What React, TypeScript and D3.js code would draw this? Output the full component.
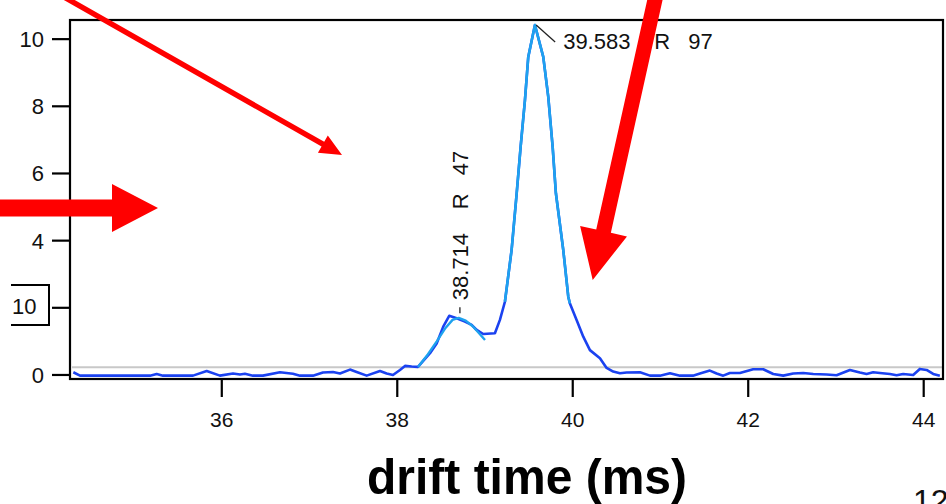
import React from "react";
import * as d3 from "d3";

// ---- data ----
const rawTime = [
  34.308, 34.384, 35.182, 35.258, 35.33, 35.672, 35.828, 35.979, 36.128, 36.207,
  36.264, 36.355, 36.469, 36.663, 36.811, 36.891, 37.039, 37.153, 37.267, 37.347,
  37.461, 37.537, 37.651, 37.803, 37.879, 37.951, 38.031, 38.088, 38.164, 38.236,
  38.373, 38.449, 38.524, 38.592, 38.677, 38.771, 38.848, 38.905, 38.98, 39.113,
  39.17, 39.227, 39.303, 39.361, 39.406, 39.455, 39.493, 39.569, 39.664, 39.721,
  39.771, 39.808, 39.892, 39.949, 39.968, 40.044, 40.12, 40.196, 40.31, 40.386,
  40.461, 40.538, 40.614, 40.766, 40.88, 40.994, 41.108, 41.222, 41.37, 41.45,
  41.563, 41.64, 41.715, 41.791, 41.905, 42.057, 42.171, 42.285, 42.399, 42.513,
  42.627, 42.741, 42.893, 43.007, 43.159, 43.273, 43.349, 43.424, 43.501, 43.615,
  43.691, 43.766, 43.88, 43.956, 44.033, 44.108, 44.184,
];
const rawIntensity = [
  0.08, -0.02, -0.02, 0.03, -0.02, -0.02, 0.12, -0.02, 0.045, 0.015,
  0.035, -0.02, -0.02, 0.08, 0.035, -0.02, -0.02, 0.075, 0.09, 0.045,
  0.16, 0.09, -0.02, 0.12, 0.045, 0.0, 0.15, 0.27, 0.25, 0.24,
  0.65, 0.94, 1.44, 1.76, 1.69, 1.59, 1.49, 1.34, 1.22, 1.24,
  1.64, 2.18, 3.72, 5.41, 6.79, 8.18, 9.47, 10.42, 9.47, 8.28,
  6.79, 5.41, 3.72, 2.33, 2.13, 1.64, 1.14, 0.74, 0.5, 0.21,
  0.1, 0.05, 0.075, 0.08, -0.02, -0.02, 0.05, -0.02, -0.02, 0.045,
  0.13, 0.045, -0.02, 0.06, 0.06, 0.17, 0.17, 0.03, -0.02, 0.045,
  0.06, 0.03, 0.015, -0.01, 0.15, 0.075, 0.03, 0.08, 0.06, 0.03,
  -0.01, 0.03, 0.0, 0.18, 0.15, 0.03, -0.02,
];

const fitMinorTime = [38.236, 38.35, 38.45, 38.55, 38.63, 38.7, 38.78, 38.86, 38.93, 39.0];
const fitMinorIntensity = [0.24, 0.62, 1.0, 1.4, 1.64, 1.7, 1.62, 1.45, 1.25, 1.04];

const fitMajorTime = [39.227, 39.303, 39.361, 39.406, 39.455, 39.493, 39.569, 39.664, 39.721, 39.771, 39.808, 39.892, 39.949, 39.968];
const fitMajorIntensity = [2.18, 3.72, 5.41, 6.79, 8.18, 9.47, 10.42, 9.47, 8.28, 6.79, 5.41, 3.72, 2.33, 2.13];

const baselineLevel = 0.23;

const xTicks = [36, 38, 40, 42, 44];
const yTicks = [0, 2, 4, 6, 8, 10];
// the label of tick 2 is hidden under the boxed "10" in the reference
const yTickLabels = ["0", "", "4", "6", "8", "10"];

const peakTimes = [39.583, 38.714];
const peakHeights = [10.42, 1.72];
const peakLabels = ["39.583", "38.714"];
const peakR = ["R", "R"];
const peakNumbers = ["97", "47"];

const xTitle = "drift time (ms)";
const boxedLabel = "10";
const pageNumber = "12";

// ---- layout ----
const W = 946;
const H = 504;
const plot = { left: 70, right: 943, top: 20, bottom: 379 };
const FONT = "'Liberation Sans', Arial, Helvetica, sans-serif";
const RAW_COLOR = "#1b42f0";
const FIT_COLOR = "#1ea2ee";
const RED = "#ff0000";

function arrowPoints(
  sx: number, sy: number, tx: number, ty: number,
  shaftHalf: number, headLen: number, headHalf: number
) {
  const dx = tx - sx;
  const dy = ty - sy;
  const len = Math.hypot(dx, dy);
  const ux = dx / len, uy = dy / len;
  const px = -uy, py = ux;
  const bx = tx - ux * headLen, by = ty - uy * headLen;
  const pts = [
    [sx + px * shaftHalf, sy + py * shaftHalf],
    [bx + px * shaftHalf, by + py * shaftHalf],
    [bx + px * headHalf, by + py * headHalf],
    [tx, ty],
    [bx - px * headHalf, by - py * headHalf],
    [bx - px * shaftHalf, by - py * shaftHalf],
    [sx - px * shaftHalf, sy - py * shaftHalf],
  ];
  return pts.map((p) => p.join(",")).join(" ");
}

export default function App() {
  const x = d3.scaleLinear().domain([34.27, 44.22]).range([plot.left, plot.right]);
  const y = d3.scaleLinear().domain([-0.12, 10.57]).range([plot.bottom, plot.top]);

  const line = d3
    .line<[number, number]>()
    .x((d) => x(d[0]))
    .y((d) => y(d[1]));

  const raw = rawTime.map((t, i) => [t, rawIntensity[i]] as [number, number]);
  const fitMinor = fitMinorTime.map((t, i) => [t, fitMinorIntensity[i]] as [number, number]);
  const fitMajor = fitMajorTime.map((t, i) => [t, fitMajorIntensity[i]] as [number, number]);

  const labelOffsets = [0, 91, 125];

  const px0 = x(peakTimes[0]);
  const py0 = y(peakHeights[0]);
  const px1 = x(peakTimes[1]);
  const py1 = y(peakHeights[1]);

  return (
    <svg
      width={W}
      height={H}
      viewBox={`0 0 ${W} ${H}`}
      style={{ position: "absolute", left: 0, top: 0, background: "#fff" }}
      fontFamily={FONT}
    >
      <rect x={0} y={0} width={W} height={H} fill="#fff" />

      {/* baseline */}
      <line
        x1={plot.left + 2}
        x2={plot.right}
        y1={y(baselineLevel)}
        y2={y(baselineLevel)}
        stroke="#c8c8c8"
        strokeWidth={2}
      />

      {/* raw data */}
      <path d={line(raw) ?? ""} fill="none" stroke={RAW_COLOR} strokeWidth={2.6} strokeLinejoin="round" />
      {/* fits */}
      <path d={line(fitMinor) ?? ""} fill="none" stroke={FIT_COLOR} strokeWidth={2.4} strokeLinejoin="round" />
      <path d={line(fitMajor) ?? ""} fill="none" stroke={FIT_COLOR} strokeWidth={2.6} strokeLinejoin="round" />

      {/* frame */}
      <rect
        x={plot.left}
        y={plot.top}
        width={plot.right - plot.left}
        height={plot.bottom - plot.top}
        fill="none"
        stroke="#000"
        strokeWidth={2.2}
      />

      {/* y axis ticks */}
      {yTicks.map((t, i) => (
        <g key={"y" + t}>
          <line x1={plot.left - 18} x2={plot.left} y1={y(t)} y2={y(t)} stroke="#000" strokeWidth={2.2} />
          {yTickLabels[i] !== "" && (
            <text x={plot.left - 26} y={y(t)} dy="0.36em" textAnchor="end" fontSize={22} fill="#111">
              {yTickLabels[i]}
            </text>
          )}
        </g>
      ))}

      {/* x axis ticks */}
      {xTicks.map((t) => (
        <g key={"x" + t}>
          <line x1={x(t)} x2={x(t)} y1={plot.bottom} y2={plot.bottom + 18} stroke="#000" strokeWidth={2.2} />
          <text x={x(t)} y={427} textAnchor="middle" fontSize={21} fill="#111">
            {t}
          </text>
        </g>
      ))}

      {/* boxed label overlay */}
      <path d="M11,285 H49 V325 H11" fill="#fff" stroke="#000" strokeWidth={2} />
      <text x={12} y={306} dy="0.36em" fontSize={22} fill="#111">
        {boxedLabel}
      </text>

      {/* peak annotation 1 */}
      <line x1={px0} y1={py0} x2={px0 + 19} y2={py0 + 17} stroke="#222" strokeWidth={1.3} />
      <text x={px0 + 27} y={py0 + 24} fontSize={22} fill="#111">
        <tspan x={px0 + 27 + labelOffsets[0]}>{peakLabels[0]}</tspan>
        <tspan x={px0 + 27 + labelOffsets[1]}>{peakR[0]}</tspan>
        <tspan x={px0 + 27 + labelOffsets[2]}>{peakNumbers[0]}</tspan>
      </text>

      {/* peak annotation 2 (rotated) */}
      <line x1={px1} y1={py1 - 4} x2={px1} y2={py1 - 10} stroke="#222" strokeWidth={1.3} />
      <g transform={`translate(${px1 + 8},${py1 - 17}) rotate(-90)`}>
        <text x={0} y={0} fontSize={22} fill="#111">
          <tspan x={labelOffsets[0]}>{peakLabels[1]}</tspan>
          <tspan x={labelOffsets[1]}>{peakR[1]}</tspan>
          <tspan x={labelOffsets[2]}>{peakNumbers[1]}</tspan>
        </text>
      </g>

      {/* axis title */}
      <text
        x={527}
        y={494}
        textAnchor="middle"
        fontSize={50}
        fontWeight="bold"
        fill="#000"
        textLength={320}
        lengthAdjust="spacingAndGlyphs"
      >
        {xTitle}
      </text>

      {/* page number (cut by the edge, as in the reference) */}
      <text x={913} y={512} fontSize={32} fill="#111">
        {pageNumber}
      </text>

      {/* red annotation arrows */}
      <polygon points={arrowPoints(64, -3, 342, 155, 2.7, 22, 10)} fill={RED} />
      <polygon points={arrowPoints(-5, 208, 158, 208, 8.5, 46, 24)} fill={RED} />
      <polygon points={arrowPoints(656, -5, 592.7, 280, 7.5, 50, 24)} fill={RED} />
    </svg>
  );
}
